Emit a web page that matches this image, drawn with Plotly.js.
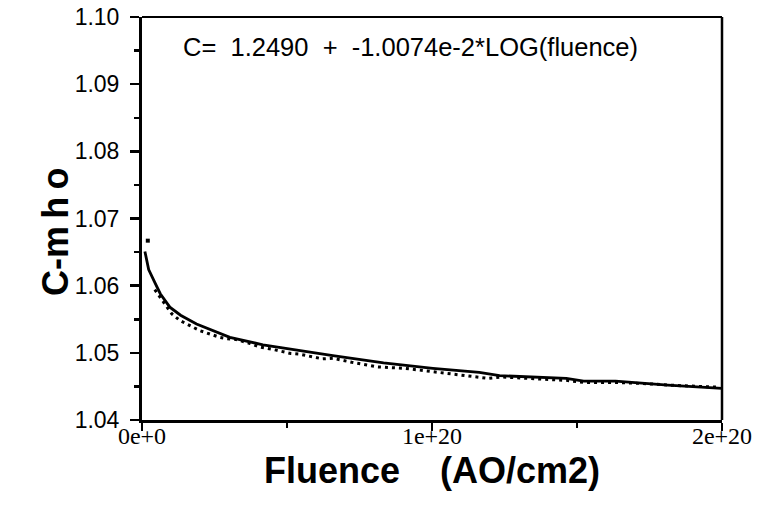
<!DOCTYPE html>
<html>
<head>
<meta charset="utf-8">
<script src="https://cdn.plot.ly/plotly-3.0.1.min.js"></script>
<style>html,body{margin:0;padding:0;background:#fff;}#chart{width:759px;height:506px;}</style>
</head>
<body>
<div id="chart"></div>
<script>
// Fit curve (solid line)
const fitX = [0.01e20, 0.023e20, 0.044e20, 0.063e20, 0.096e20, 0.133e20, 0.188e20, 0.243e20, 0.303e20, 0.417e20, 0.533e20, 0.658e20, 0.833e20, 1.003e20, 1.163e20, 1.233e20, 1.463e20, 1.523e20, 1.633e20, 1.813e20, 2.0e20];
const fitY = [1.0651, 1.0624, 1.0605, 1.0588, 1.0568, 1.0556, 1.0543, 1.0533, 1.0523, 1.0512, 1.0504, 1.0496, 1.0485, 1.0477, 1.0471, 1.0466, 1.0462, 1.0458, 1.0458, 1.0452, 1.0447];

const obsX = [0.02e20, 0.044e20, 0.069e20, 0.086e20, 0.103e20, 0.131e20, 0.165e20, 0.2e20, 0.234e20, 0.269e20, 0.293e20, 0.323e20, 0.373e20, 0.403e20, 0.463e20, 0.513e20, 0.543e20, 0.593e20, 0.623e20, 0.658e20, 0.723e20, 0.813e20, 0.903e20, 0.983e20, 1.073e20, 1.123e20, 1.193e20, 1.243e20, 1.353e20, 1.463e20, 1.523e20, 1.633e20, 1.743e20, 1.813e20, 1.923e20, 1.983e20];
const obsY = [1.0667, 1.0594, 1.0579, 1.0568, 1.0558, 1.0548, 1.0540, 1.0533, 1.0528, 1.0523, 1.0521, 1.0520, 1.0514, 1.0509, 1.0504, 1.0499, 1.0498, 1.0494, 1.0491, 1.0492, 1.0486, 1.0479, 1.0477, 1.0473, 1.0468, 1.0465, 1.0462, 1.0464, 1.0462, 1.0459, 1.0456, 1.0456, 1.0454, 1.0452, 1.0450, 1.0449];

const xTickVals = [0, 1e20, 2e20];
const xTickText = ["0e+0", "1e+20", "2e+20"];
const yTickVals = [1.04, 1.05, 1.06, 1.07, 1.08, 1.09, 1.10];
const yTickText = ["1.04", "1.05", "1.06", "1.07", "1.08", "1.09", "1.10"];

const equationText = "C=&nbsp; 1.2490&nbsp; +&nbsp; -1.0074e-2*LOG(fluence)";
const xTitle = "<b>Fluence&nbsp;&nbsp;&nbsp; (AO/cm2)</b>";
const yTitle = "<b>C-m&#8201;h&#8201;o</b>";

const traces = [
  {x: obsX.slice(1), y: obsY.slice(1), mode: 'lines', line: {color: '#000', width: 3, dash: '3px,4px'}, hoverinfo: 'skip'},
  {x: obsX.slice(0, 1), y: obsY.slice(0, 1), mode: 'markers', marker: {color: '#000', size: 4, symbol: 'square'}, hoverinfo: 'skip'},
  {x: fitX, y: fitY, mode: 'lines', line: {color: '#000', width: 2.8}, hoverinfo: 'skip'}
];

const sans = 'Liberation Sans, Arial, sans-serif';

const layout = {
  width: 759, height: 506,
  margin: {l: 142, r: 37, t: 17, b: 86},
  paper_bgcolor: '#fff', plot_bgcolor: '#fff',
  showlegend: false,
  xaxis: {
    range: [0, 2e20], tickvals: xTickVals, ticktext: xTickText,
    ticks: 'outside', ticklen: 8, tickwidth: 2.5, tickcolor: '#000',
    minor: {dtick: 0.5e20, tick0: 0, ticks: 'outside', ticklen: 5, tickwidth: 2.5, tickcolor: '#000', showgrid: false},
    showline: true, linewidth: 3, linecolor: '#000', mirror: false,
    showgrid: false, zeroline: false,
    ticklabelstandoff: -16,
    tickfont: {family: 'Liberation Serif, serif', size: 24, color: '#000'}
  },
  yaxis: {
    range: [1.04, 1.10], tickvals: yTickVals, ticktext: yTickText,
    ticks: 'outside', ticklen: 9, tickwidth: 2.5, tickcolor: '#000',
    minor: {dtick: 0.005, tick0: 1.04, ticks: 'outside', ticklen: 5, tickwidth: 2.5, tickcolor: '#000', showgrid: false},
    showline: true, linewidth: 3, linecolor: '#000', mirror: false,
    showgrid: false, zeroline: false,
    ticklabelstandoff: 6,
    tickfont: {family: sans, size: 23, color: '#000'}
  },
  shapes: [
    {type: 'line', xref: 'paper', yref: 'paper', x0: 0, x1: 1, y0: 1, y1: 1, line: {color: '#000', width: 2}},
    {type: 'line', xref: 'paper', yref: 'paper', x0: 1, x1: 1, y0: 0, y1: 1, line: {color: '#000', width: 2.5}}
  ],
  annotations: [
    {xref: 'paper', yref: 'paper', x: 0.068, y: 0.9256, xanchor: 'left', yanchor: 'middle',
     text: equationText, showarrow: false, font: {family: sans, size: 25.5, color: '#000'}},
    {xref: 'paper', yref: 'paper', x: 0.5, y: -0.126, xanchor: 'center', yanchor: 'middle',
     text: xTitle, showarrow: false, font: {family: sans, size: 36, color: '#000'}},
    {xref: 'paper', yref: 'paper', x: -0.15, y: 0.4665, xanchor: 'center', yanchor: 'middle', textangle: -90,
     text: yTitle, showarrow: false, font: {family: sans, size: 36, color: '#000'}}
  ]
};

Plotly.newPlot('chart', traces, layout, {displayModeBar: false, staticPlot: true});
</script>
</body>
</html>
